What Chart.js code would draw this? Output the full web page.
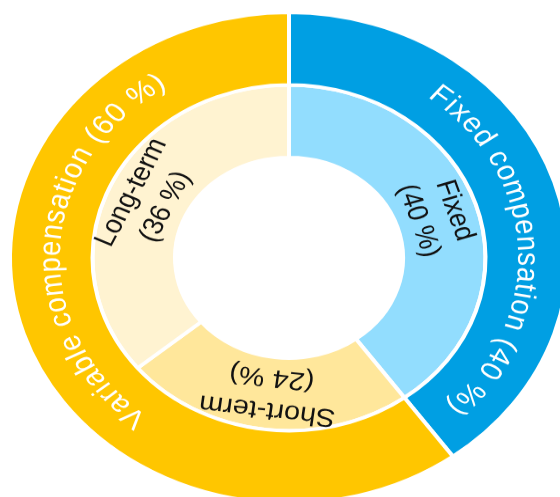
<!DOCTYPE html>
<html>
<head>
<meta charset="utf-8">
<script src="https://cdn.jsdelivr.net/npm/chart.js@4.4.1/dist/chart.umd.min.js"></script>
<style>
  html, body { margin: 0; padding: 0; background: #ffffff; overflow: hidden; width: 560px; height: 497px; }
  #wrap { position: absolute; left: 0; top: 0; transform: scaleY(0.88); transform-origin: 0 0; }
  canvas { display: block; }
</style>
</head>
<body>
<div id="wrap"><canvas id="c" width="578" height="580"></canvas></div>
<script>
// ---- data ----
const outerLabels = ['Fixed compensation', 'Variable compensation'];
const outerValues = [40, 60];
const innerLabels = ['Fixed', 'Short-term', 'Long-term'];
const innerValues = [40, 24, 36];

// ---- styles ----
const outerColors = ['#009FE3', '#FFC600'];
const innerColors = ['#92DDFE', '#FFE79B', '#FFF3D1'];
const labelStyle = {
  family: '"Liberation Sans", Arial, Helvetica, sans-serif',
  outer: { size: 31, spacing: 1.5, color: '#ffffff', angleShiftDeg: [15, 21] },
  inner: { size: 29, spacing: 0, lineHeight: 1.3, color: '#111111' }
};

function pctText(v) { return '(' + v + ' %)'; }

function drawCurved(ctx, text, cx, cy, r, centerAngle, spacing) {
  const chars = Array.from(text);
  const widths = chars.map(ch => ctx.measureText(ch).width);
  const total = widths.reduce((a, b) => a + b, 0) + spacing * (chars.length - 1);
  let a = centerAngle - total / (2 * r);
  chars.forEach((ch, i) => {
    const w = widths[i];
    const ac = a + (w / 2) / r;
    ctx.save();
    ctx.translate(cx + r * Math.cos(ac), cy + r * Math.sin(ac));
    ctx.rotate(ac + Math.PI / 2);
    ctx.fillText(ch, 0, 0);
    ctx.restore();
    a += (w + spacing) / r;
  });
}

function drawSpaced(ctx, text, x, y, spacing) {
  const chars = Array.from(text);
  const widths = chars.map(ch => ctx.measureText(ch).width);
  const total = widths.reduce((a, b) => a + b, 0) + spacing * (chars.length - 1);
  let cx = x - total / 2;
  chars.forEach((ch, i) => {
    ctx.fillText(ch, cx + widths[i] / 2, y);
    cx += widths[i] + spacing;
  });
}

const ringLabels = {
  id: 'ringLabels',
  afterDatasetsDraw(chart) {
    const ctx = chart.ctx;
    ctx.save();
    ctx.textAlign = 'center';
    ctx.textBaseline = 'middle';
    // outer ring: curved text
    const mo = chart.getDatasetMeta(0);
    ctx.font = labelStyle.outer.size + 'px ' + labelStyle.family;
    ctx.fillStyle = labelStyle.outer.color;
    mo.data.forEach((arc, i) => {
      const p = arc.getProps(['x', 'y', 'startAngle', 'endAngle', 'innerRadius', 'outerRadius'], true);
      const mid = (p.startAngle + p.endAngle) / 2 + labelStyle.outer.angleShiftDeg[i] * Math.PI / 180;
      const r = (p.innerRadius + p.outerRadius) / 2;
      drawCurved(ctx, outerLabels[i] + ' ' + pctText(outerValues[i]), p.x, p.y, r, mid, labelStyle.outer.spacing);
    });
    // inner ring: rotated two-line labels
    const mi = chart.getDatasetMeta(1);
    ctx.font = labelStyle.inner.size + 'px ' + labelStyle.family;
    ctx.fillStyle = labelStyle.inner.color;
    const lh = labelStyle.inner.size * labelStyle.inner.lineHeight;
    mi.data.forEach((arc, i) => {
      const p = arc.getProps(['x', 'y', 'startAngle', 'endAngle', 'innerRadius', 'outerRadius'], true);
      const mid = (p.startAngle + p.endAngle) / 2;
      const r = (p.innerRadius + p.outerRadius) / 2;
      ctx.save();
      ctx.translate(p.x + r * Math.cos(mid), p.y + r * Math.sin(mid));
      ctx.rotate(mid + Math.PI / 2);
      drawSpaced(ctx, innerLabels[i], 0, -lh / 2, labelStyle.inner.spacing);
      drawSpaced(ctx, pctText(innerValues[i]), 0, lh / 2, labelStyle.inner.spacing);
      ctx.restore();
    });
    ctx.restore();
  }
};

new Chart(document.getElementById('c'), {
  type: 'doughnut',
  data: {
    labels: outerLabels,
    datasets: [
      { data: outerValues, backgroundColor: outerColors, borderColor: '#ffffff', borderWidth: 4 },
      { data: innerValues, backgroundColor: innerColors, borderColor: '#ffffff', borderWidth: 4 }
    ]
  },
  options: {
    responsive: false,
    devicePixelRatio: 1,
    animation: false,
    events: [],
    cutout: 114,
    layout: { padding: { left: 8, right: 8, top: 12, bottom: 6 } },
    plugins: { legend: { display: false }, tooltip: { enabled: false } }
  },
  plugins: [ringLabels]
});
</script>
</body>
</html>
